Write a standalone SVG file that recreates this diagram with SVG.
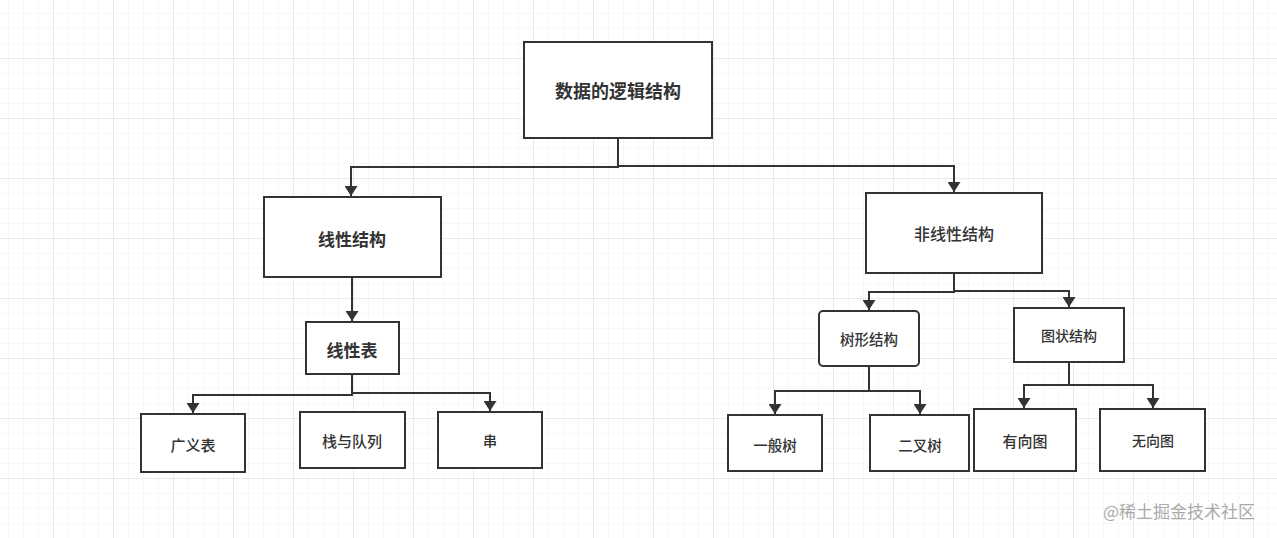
<svg xmlns="http://www.w3.org/2000/svg" width="1277" height="538" viewBox="0 0 1277 538">
<defs>
<pattern id="minor" x="8" y="13" width="15" height="15" patternUnits="userSpaceOnUse">
<path d="M0 0H15M0 0V15" fill="none" stroke="#efefef" stroke-width="1"/>
</pattern>
<pattern id="major" x="53" y="58" width="60" height="60" patternUnits="userSpaceOnUse">
<path d="M0 0H60M0 0V60" fill="none" stroke="#dedede" stroke-width="1"/>
</pattern>
<marker id="arr" viewBox="0 0 10 13" refX="10" refY="6.5" markerWidth="10" markerHeight="13" markerUnits="userSpaceOnUse" orient="auto">
<path d="M0 0L10 6.5L0 13Z" fill="#333"/>
</marker>
<style>
.box{fill:#fff;stroke:#333;stroke-width:2}
.t{font-family:"Noto Sans CJK SC","Noto Sans",sans-serif;fill:#333;text-anchor:middle;dominant-baseline:central}
.b{font-weight:bold}
.conn path{fill:none;stroke:#333;stroke-width:2;marker-end:url(#arr)}
</style>
</defs>
<rect width="1277" height="538" fill="#fff"/>
<rect width="1277" height="538" fill="url(#minor)"/>
<rect width="1277" height="538" fill="url(#major)"/>
<g class="conn" id="connectors">
<path d="M618 138V167H351V196"/>
<path d="M618 138V166H954V192"/>
<path d="M352 278V321"/>
<path d="M352 374V395H193V413"/>
<path d="M352 374V393H490V411"/>
<path d="M954 273V292H869V310"/>
<path d="M954 273V291H1069V307"/>
<path d="M869 366V391H775V414"/>
<path d="M869 366V391H920V414"/>
<path d="M1069 362V385H1024V408"/>
<path d="M1069 362V385H1153V408"/>
</g>
<g id="n-root"><rect class="box" x="524" y="42" width="188" height="96"/><text class="t b" x="618" y="90" font-size="18">数据的逻辑结构</text></g>
<g id="n-linear"><rect class="box" x="264" y="197" width="177" height="80"/><text class="t b" x="352" y="238" font-size="17">线性结构</text></g>
<g id="n-nonlinear"><rect class="box" x="866" y="193" width="176" height="80"/><text class="t" x="954" y="233" font-size="16" font-weight="500">非线性结构</text></g>
<g id="n-list"><rect class="box" x="306" y="322" width="93" height="52"/><text class="t b" x="352" y="349" font-size="17">线性表</text></g>
<g id="n-glist"><rect class="box" x="141" y="414" width="104" height="58"/><text class="t" x="193" y="444" font-size="15" font-weight="500">广义表</text></g>
<g id="n-stack"><rect class="box" x="300" y="412" width="105" height="56"/><text class="t" x="352" y="440" font-size="15" font-weight="500">栈与队列</text></g>
<g id="n-string"><rect class="box" x="438" y="412" width="104" height="56"/><text class="t" x="490" y="440" font-size="14" font-weight="500">串</text></g>
<g id="n-tree"><rect class="box" x="819" y="311" width="100" height="55" rx="4"/><text class="t" x="869" y="338" font-size="14.5" font-weight="500">树形结构</text></g>
<g id="n-graph"><rect class="box" x="1014" y="308" width="110" height="54"/><text class="t" x="1069" y="335" font-size="14" font-weight="500">图状结构</text></g>
<g id="n-gtree"><rect class="box" x="728" y="415" width="94" height="56"/><text class="t" x="775" y="444" font-size="14.5" font-weight="500">一般树</text></g>
<g id="n-btree"><rect class="box" x="870" y="415" width="99" height="56"/><text class="t" x="920" y="444" font-size="14.5" font-weight="500">二叉树</text></g>
<g id="n-dgraph"><rect class="box" x="974" y="409" width="102" height="62"/><text class="t" x="1025" y="440" font-size="15" font-weight="500">有向图</text></g>
<g id="n-ugraph"><rect class="box" x="1100" y="409" width="105" height="62"/><text class="t" x="1153" y="440" font-size="14" font-weight="500">无向图</text></g>
<text x="1179" y="510" font-family="Noto Sans CJK SC,sans-serif" font-size="17" fill="#aaa" text-anchor="middle" dominant-baseline="central">@稀土掘金技术社区</text>
</svg>
